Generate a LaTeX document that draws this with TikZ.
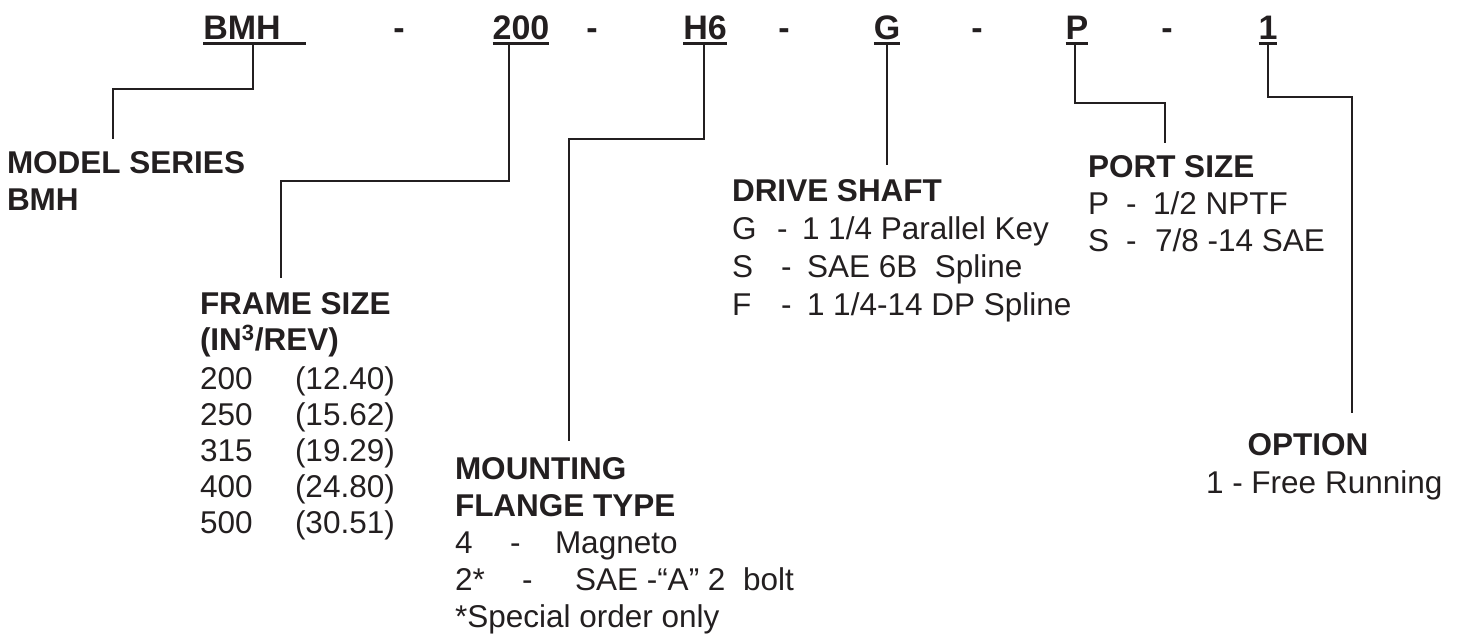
\documentclass[tikz,border=0pt]{standalone}
\usepackage{fontspec}
\setmainfont{Liberation Sans}
\definecolor{ink}{HTML}{231F20}
\begin{document}
\begin{tikzpicture}[x=1pt,y=-1pt,
  every node/.style={inner sep=0pt, outer sep=0pt, text=ink},
  ttl/.style={anchor=base, font=\fontsize{34}{40}\selectfont\bfseries},
  hd/.style={anchor=base west, font=\fontsize{31.5}{38}\selectfont\bfseries},
  tx/.style={anchor=base west, font=\fontsize{31.5}{38}\selectfont},
  ln/.style={draw=ink, line width=2.6pt},
  ul/.style={draw=ink, line width=2.7pt}]
\useasboundingbox (0,0) rectangle (1460,638);
% title
\node[ttl] (tA) at (242,39) {BMH};
\node[ttl] (dA) at (399,39) {-};
\node[ttl] (tB) at (521,39) {200};
\node[ttl] (dB) at (592,39) {-};
\node[ttl] (tC) at (705,39) {H6};
\node[ttl] (dC) at (784,39) {-};
\node[ttl] (tD) at (887,39) {G};
\node[ttl] (dD) at (977,39) {-};
\node[ttl] (tE) at (1077,39) {P};
\node[ttl] (dE) at (1167,39) {-};
\node[ttl] (tF) at (1268,39) {1};
\draw[ul] ([yshift=-4.5pt]tA.base west) -- ([xshift=25pt,yshift=-4.5pt]tA.base east);
\foreach \t in {tB,tC,tD,tE,tF}{
  \draw[ul] ([yshift=-4.5pt]\t.base west) -- ([yshift=-4.5pt]\t.base east);
}
% labels
\node[hd] (ms1) at (7,173) {MODEL SERIES};
\node[hd] (ms2) at (7,210) {BMH};

\node[hd] (fs1) at (200,314) {FRAME SIZE};
\node[hd] (fs2) at (200,350) {(IN\textsuperscript{3}/REV)};
\foreach \a/\b/\y in {200/12.40/389,250/15.62/425,315/19.29/461,400/24.80/497,500/30.51/533}{
  \node[tx] at (200,\y) {\a};
  \node[tx] at (295,\y) {(\b)};
}

\node[hd] (mf1) at (455,479) {MOUNTING};
\node[hd] (mf2) at (455,516) {FLANGE TYPE};
\node[tx] (mf3) at (455,553) {4};
\node[tx] at (510,553) {-};
\node[tx] at (555,553) {Magneto};
\node[tx] (mf4) at (455,590) {2*};
\node[tx] at (522,590) {-};
\node[tx] at (575,590) {SAE -“A” 2\ \ bolt};
\node[tx] (mf5) at (455,627) {*Special order only};

\node[hd] (ds1) at (732,201) {DRIVE SHAFT};
\node[tx] at (732,239) {G};
\node[tx] at (777,239) {-};
\node[tx] at (802,239) {1 1/4 Parallel Key};
\node[tx] at (732,277) {S};
\node[tx] at (781,277) {-};
\node[tx] at (807,277) {SAE 6B\ \ Spline};
\node[tx] at (732,315) {F};
\node[tx] at (781,315) {-};
\node[tx] at (807,315) {1 1/4-14 DP Spline};

\node[hd] (ps1) at (1088,177) {PORT SIZE};
\node[tx] at (1088,214) {P};
\node[tx] at (1126,214) {-};
\node[tx] at (1153,214) {1/2 NPTF};
\node[tx] at (1088,251) {S};
\node[tx] at (1126,251) {-};
\node[tx] at (1155,251) {7/8 -14 SAE};

\node[hd, anchor=base] (op1) at (1308,455) {OPTION};
\node[tx] (op2) at (1206,493) {1 - Free Running};

% connector coordinates
\coordinate (sA) at (253,44);  \coordinate (kA) at (113,89);   \coordinate (eA) at (113,139);
\coordinate (sB) at (509,44);  \coordinate (kB) at (281,181);  \coordinate (eB) at (281,278);
\coordinate (sC) at (704,44);  \coordinate (kC) at (569,139);  \coordinate (eC) at (569,441);
\coordinate (sD) at (887,44);  \coordinate (eD) at (887,165);
\coordinate (sE) at (1075,44); \coordinate (kE) at (1165,103); \coordinate (eE) at (1165,143);
\coordinate (sF) at (1268,44); \coordinate (kF) at (1352,97);  \coordinate (eF) at (1352,413);
\draw[ln] (sA) |- (kA) -- (eA);
\draw[ln] (sB) |- (kB) -- (eB);
\draw[ln] (sC) |- (kC) -- (eC);
\draw[ln] (sD) -- (eD);
\draw[ln] (sE) |- (kE) -- (eE);
\draw[ln] (sF) |- (kF) -- (eF);
\end{tikzpicture}
\end{document}
